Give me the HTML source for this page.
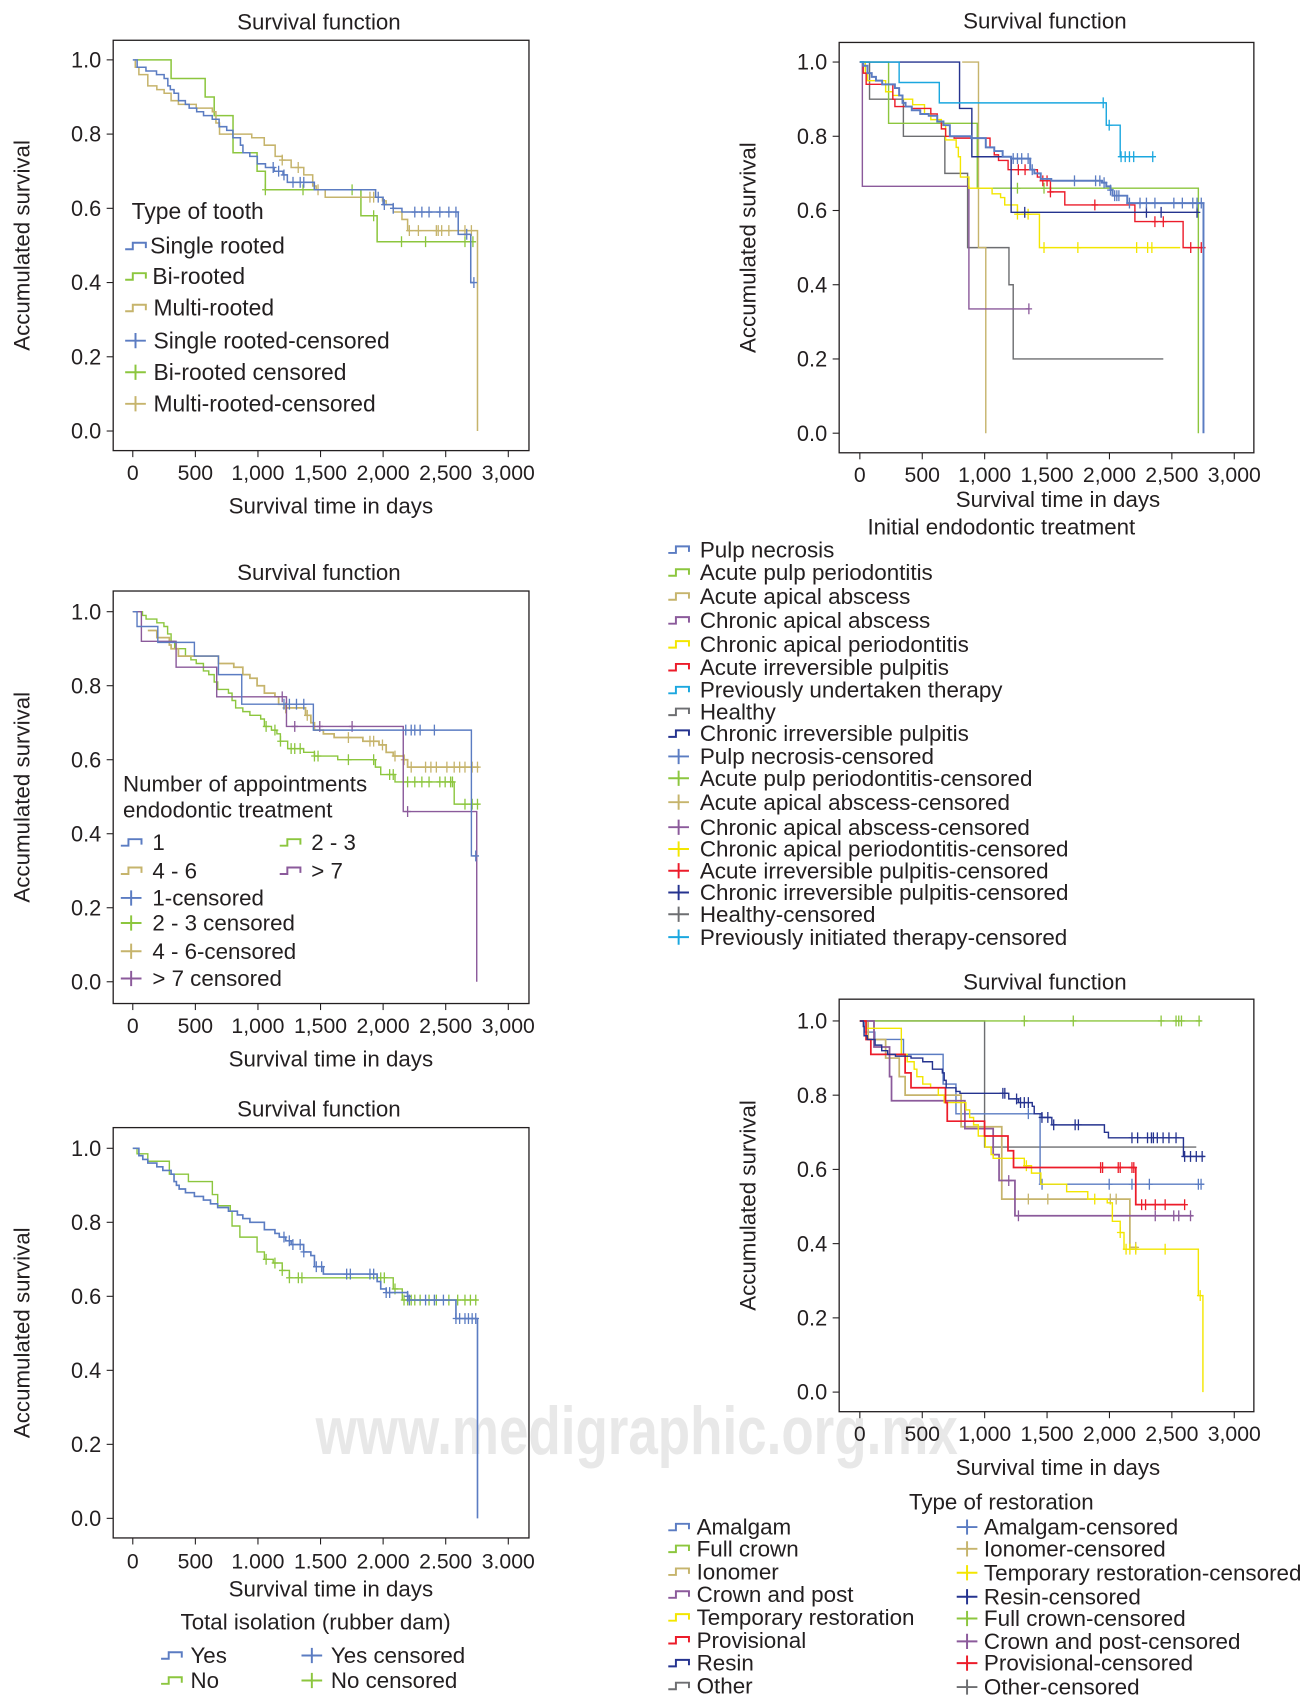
<!DOCTYPE html>
<html><head><meta charset="utf-8"><style>
html,body{margin:0;padding:0;background:#fff;}
svg{display:block;}
text{font-family:"Liberation Sans",Arial,sans-serif;fill:#231f20;}
</style></head><body>
<svg id="fig" width="1311" height="1706" viewBox="0 0 1204.5 1567.4" preserveAspectRatio="none" xmlns="http://www.w3.org/2000/svg">
<text x="290" y="1336" font-size="62" font-weight="bold" style="fill:#e8e8e8" textLength="590" lengthAdjust="spacingAndGlyphs">www.medigraphic.org.mx</text>
</svg>
<script>
// ---------- shared tick data ----------
const xTicks=[0,500,1000,1500,2000,2500,3000];
const xTickLabels=['0','500','1,000','1,500','2,000','2,500','3,000'];
const xTickLabelsDot=['0','500','1.000','1.500','2.000','2.500','3.000'];
const yTicks=[0,0.2,0.4,0.6,0.8,1.0];
const yTickLabels=['0.0','0.2','0.4','0.6','0.8','1.0'];

// ---------- Panel 1: type of tooth ----------
const p1SingleT=[0,35,105,190,250,280,300,330,365,420,450,510,565,635,690,750,800,860,880,935,995,1060,1130,1200,1235,1450,1940,2000,2080,2150,2600,2700];
const p1SingleS=[1,0.98,0.97,0.96,0.95,0.93,0.92,0.91,0.89,0.88,0.87,0.86,0.85,0.84,0.82,0.81,0.79,0.77,0.75,0.74,0.72,0.71,0.70,0.69,0.67,0.65,0.63,0.61,0.60,0.59,0.53,0.40];
const p1SingleEnd=[2725];
const p1SingleC=[1122,1165,1208,1280,1337,1366,1961,2010,2081,2253,2310,2367,2453,2525,2582,2668,2725];
const p1BiT=[30,306,578,650,801,993,1059,1823,1952];
const p1BiS=[1,0.95,0.90,0.85,0.75,0.70,0.65,0.58,0.51];
const p1BiEnd=[2740];
const p1BiC=[1059,1360,1752,1924,2147,2339,2654,2717];
const p1MultiT=[15,20,49,120,192,250,306,364,507,636,664,693,950,1050,1137,1194,1265,1366,1437,1465,1537,1995,2024,2081,2150,2196,2754];
const p1MultiS=[1,0.98,0.96,0.93,0.92,0.91,0.89,0.88,0.87,0.86,0.83,0.80,0.79,0.77,0.74,0.73,0.71,0.69,0.66,0.65,0.63,0.62,0.61,0.59,0.57,0.54,0];
const p1MultiEnd=[2754];
const p1MultiC=[1194,1322,1480,1895,1924,2210,2282,2425,2440,2468,2525,2654,2705];

// ---------- Panel 2: initial endodontic treatment ----------
const p2PulpT=[0,27,61,95,129,179,281,315,342,366,416,484,552,620,670,721,891,1009,1077,1144,1212,1365,1398,1449,1534,1940,1974,2008,2025,2143,2753];
const p2PulpS=[1,0.99,0.97,0.96,0.95,0.94,0.93,0.91,0.89,0.88,0.87,0.86,0.855,0.84,0.83,0.80,0.795,0.77,0.76,0.745,0.74,0.71,0.70,0.685,0.68,0.675,0.665,0.655,0.64,0.62,0];
const p2PulpEnd=[2753];
const p2PulpC=[1229,1263,1297,1348,1381,1720,1889,1923,1957,2008,2042,2059,2076,2160,2245,2296,2364,2516,2584,2668,2702,2736];
const p2AcuteT=[0,230,941,2712];
const p2AcuteS=[1,0.835,0.66,0];
const p2AcuteEnd=[2712];
const p2AcuteC=[1263,1476];
const p2AbscT=[820,951,1009];
const p2AbscS=[1,0.5,0];
const p2AbscEnd=[1009];
const p2AbscC=[];
const p2ChronAbscT=[0,20,874];
const p2ChronAbscS=[1,0.665,0.335];
const p2ChronAbscEnd=[1354];
const p2ChronAbscC=[1354];
const p2ChronPerT=[0,44,61,207,264,342,423,518,569,653,687,772,789,806,874,1060,1128,1161,1263,1439];
const p2ChronPerS=[1,0.97,0.95,0.92,0.91,0.90,0.885,0.86,0.845,0.83,0.79,0.77,0.745,0.69,0.66,0.645,0.635,0.615,0.59,0.50];
const p2ChronPerEnd=[2567];
const p2ChronPerC=[1263,1348,1476,1747,2218,2306,2340];
const p2IrrT=[0,27,51,264,281,416,569,620,653,687,755,1043,1077,1111,1188,1422,1449,1527,1642,2204,2590];
const p2IrrS=[1,0.97,0.94,0.90,0.88,0.875,0.86,0.84,0.82,0.80,0.795,0.77,0.75,0.735,0.71,0.69,0.68,0.65,0.615,0.57,0.50];
const p2IrrEnd=[2770];
const p2IrrC=[1270,1324,1466,1500,1527,1883,2364,2431,2651,2736];
const p2PrevT=[0,315,637,1974,2086];
const p2PrevS=[1,0.945,0.89,0.83,0.745];
const p2PrevEnd=[2353];
const p2PrevC=[1950,1998,2093,2126,2160,2194,2347];
const p2HealthyT=[0,78,349,681,863,1195,1229];
const p2HealthyS=[1,0.90,0.80,0.70,0.50,0.40,0.20];
const p2HealthyEnd=[2431];
const p2HealthyC=[];
const p2ChronIrrT=[0,799,897,1212];
const p2ChronIrrS=[1,0.875,0.745,0.595];
const p2ChronIrrEnd=[2712];
const p2ChronIrrC=[1321,2296,2414,2702];

// ---------- Panel 3: number of appointments ----------
const p3OneT=[0,34,200,492,684,870,1443,2705];
const p3OneS=[1,0.96,0.917,0.88,0.83,0.75,0.68,0.34];
const p3OneEnd=[2740];
const p3OneC=[1208,1251,1308,1366,2181,2224,2253,2296,2410,2740];
const p3TwoT=[0,34,77,106,192,249,278,306,335,421,464,507,564,607,650,678,764,793,822,879,936,1022,1051,1108,1151,1179,1237,1365,1451,1637,1938,1981,2095,2568];
const p3TwoS=[1,1,0.99,0.98,0.97,0.96,0.94,0.92,0.90,0.88,0.87,0.86,0.84,0.83,0.81,0.79,0.78,0.76,0.74,0.73,0.72,0.71,0.69,0.68,0.67,0.65,0.63,0.62,0.61,0.60,0.58,0.56,0.54,0.48];
const p3TwoEnd=[2768];
const p3TwoC=[1065,1136,1180,1265,1294,1337,1451,1480,1723,1924,2052,2081,2196,2253,2310,2367,2453,2496,2539,2554,2654,2711,2754];
const p3FourT=[120,192,292,306,364,684,807,879,936,993,1051,1136,1165,1222,1380,1423,1451,1523,1609,1838,1967,2024,2081,2167,2196];
const p3FourS=[0.949,0.93,0.91,0.90,0.88,0.86,0.85,0.83,0.82,0.80,0.78,0.77,0.75,0.74,0.72,0.70,0.68,0.67,0.66,0.65,0.64,0.62,0.61,0.60,0.58];
const p3FourEnd=[2768];
const p3FourC=[1222,1394,1723,1895,1924,1995,2095,2167,2224,2339,2382,2425,2510,2568,2611,2654,2711,2754];
const p3SevenT=[0,69,346,670,1228,2161,2748];
const p3SevenS=[1,0.92,0.85,0.77,0.69,0.46,0];
const p3SevenEnd=[2748];
const p3SevenC=[1194,1294,1494,1752,2196];

// ---------- Panel 4: rubber dam ----------
const p4YesT=[0,49,80,120,192,240,306,330,349,370,421,492,564,621,678,764,836,879,936,1051,1136,1170,1222,1265,1365,1423,1451,1523,1952,1981,2024,2196,2210,2582,2754];
const p4YesS=[1,0.98,0.97,0.96,0.95,0.94,0.93,0.91,0.90,0.89,0.88,0.87,0.86,0.85,0.84,0.83,0.82,0.81,0.80,0.78,0.77,0.76,0.75,0.74,0.72,0.71,0.68,0.66,0.64,0.62,0.61,0.60,0.59,0.54,0];
const p4YesEnd=[2754];
const p4YesC=[1208,1250,1279,1337,1366,1466,1509,1709,1738,1895,1924,2024,2052,2196,2210,2339,2410,2482,2582,2611,2654,2682,2711,2740];
const p4NoT=[0,34,120,292,444,636,678,779,793,856,993,1051,1122,1194,1251,2081,2153];
const p4NoS=[1,0.985,0.965,0.93,0.91,0.875,0.845,0.83,0.79,0.76,0.72,0.70,0.69,0.67,0.65,0.62,0.59];
const p4NoEnd=[2754];
const p4NoC=[1065,1136,1194,1251,1323,1351,1981,2010,2095,2167,2196,2224,2253,2296,2367,2425,2525,2596,2654,2697,2740];

// ---------- Panel 5: type of restoration ----------
const p5AmalT=[0,35,120,350,667,770,1444];
const p5AmalS=[1,0.97,0.95,0.91,0.83,0.75,0.56];
const p5AmalEnd=[2759];
const p5AmalC=[1350,1460,1998,2180,2320,2712,2734];
const p5CrownT=[0];
const p5CrownS=[1];
const p5CrownEnd=[2734];
const p5CrownC=[1318,1710,2414,2533,2555,2577,2718];
const p5IonoT=[0,66,207,316,363,811,1137,2164];
const p5IonoS=[1,0.95,0.90,0.85,0.80,0.715,0.52,0.39];
const p5IonoEnd=[2226];
const p5IonoC=[1350,1506,2007,2054,2211];
const p5PostT=[0,113,238,254,842,1068,1115,1243];
const p5PostS=[1,0.93,0.85,0.785,0.71,0.64,0.57,0.475];
const p5PostEnd=[2665];
const p5PostC=[1193,1271,2367,2515,2555,2649];
const p5TempT=[0,50,332,379,435,457,504,567,629,676,849,880,911,949,1005,1052,1068,1318,1375,1450,1657,1826,1982,2023,2086,2117,2712,2749];
const p5TempS=[1,0.98,0.91,0.89,0.87,0.85,0.83,0.82,0.80,0.78,0.76,0.74,0.72,0.69,0.66,0.64,0.63,0.61,0.59,0.56,0.54,0.52,0.51,0.46,0.43,0.385,0.26,0];
const p5TempEnd=[2749];
const p5TempC=[1334,1882,2086,2133,2164,2211,2446,2727];
const p5ProvT=[0,50,88,363,410,686,700,999,1187,1231,2211];
const p5ProvS=[1,0.95,0.91,0.86,0.82,0.78,0.73,0.69,0.65,0.605,0.505];
const p5ProvEnd=[2602];
const p5ProvC=[1929,1945,2070,2086,2180,2195,2258,2289,2367,2446,2602];
const p5ResinT=[0,28,34,59,122,175,222,285,410,504,582,661,676,692,770,802,1193,1271,1381,1397,1459,1538,1960,1992,2593];
const p5ResinS=[1,0.985,0.96,0.95,0.935,0.92,0.91,0.905,0.90,0.89,0.87,0.86,0.84,0.82,0.81,0.805,0.79,0.78,0.77,0.75,0.74,0.72,0.70,0.685,0.635];
const p5ResinEnd=[2759];
const p5ResinC=[1146,1162,1256,1287,1318,1350,1459,1506,1553,1725,1751,2180,2226,2305,2336,2352,2383,2430,2477,2533,2602,2649,2696,2743];
const p5OtherT=[12,999];
const p5OtherS=[1,0.66];
const p5OtherEnd=[2696];
const p5OtherC=[];

// ---------- colours ----------
const C={blue:'#5b7cc2',green:'#8cc63e',tan:'#c6b46c',purple:'#8b5a9b',yellow:'#f3e600',red:'#ec1c2a',cyan:'#1ba7df',gray:'#6d6e71',navy:'#25338f'};

const NS='http://www.w3.org/2000/svg';
const svg=document.getElementById('fig');
function mk(tag,attrs,parent){const e=document.createElementNS(NS,tag);for(const k in attrs)e.setAttribute(k,attrs[k]);(parent||svg).appendChild(e);return e;}
function txt(s,attrs,parent){const e=mk('text',attrs,parent);e.textContent=s;return e;}

function makeAxes(name,box,xr,yr,title,titleX,titleY,xlabY,xlabX,ylabX,tickLabY,xLabels){
  const g=mk('g',{});
  
  
  const ax={x:d=>xr[0]+(xr[1]-xr[0])*d/3000,y:s=>yr[1]+(yr[0]-yr[1])*s,g:g};
  const r=mk('rect',{x:box[0],y:box[1],width:box[2]-box[0],height:box[3]-box[1],fill:'none',stroke:'#231f20','stroke-width':1.2},g);
  
  
  const t=txt(title,{x:titleX,y:titleY,'font-size':20.5,'text-anchor':'middle'},g);
  
  
  yTicks.forEach((v,i)=>{
    const yy=ax.y(v);
    mk('line',{x1:box[0]-6,x2:box[0],y1:yy,y2:yy,stroke:'#231f20','stroke-width':1},g);
    const l=txt(yTickLabels[i],{x:box[0]-11,y:yy+7,'font-size':20,'text-anchor':'end'},g);
    
    
  });
  xTicks.forEach((v,i)=>{
    const xx=ax.x(v);
    mk('line',{x1:xx,x2:xx,y1:box[3],y2:box[3]+6,stroke:'#231f20','stroke-width':1},g);
    const l=txt(xLabels[i],{x:xx,y:tickLabY,'font-size':19.5,'text-anchor':'middle'},g);
    
    
  });
  const xl=txt('Survival time in days',{x:xlabX,y:xlabY,'font-size':20.5,'text-anchor':'middle'},g);
  
  
  const cy=(box[1]+box[3])/2;
  const yl=txt('Accumulated survival',{x:ylabX,y:cy,'font-size':20.5,'text-anchor':'middle',transform:'rotate(-90 '+ylabX+' '+cy+')'},g);
  
  
  return ax;
}
function survAt(T,S,d){let s=S[0];for(let i=0;i<T.length;i++){if(T[i]<=d)s=S[i];}return s;}
function series(ax,T,S,End,Cs,color,name,w){
  let d='M'+ax.x(T[0]).toFixed(1)+' '+ax.y(S[0]).toFixed(1);
  for(let i=1;i<T.length;i++){d+=' H'+ax.x(T[i]).toFixed(1)+' V'+ax.y(S[i]).toFixed(1);}
  d+=' H'+ax.x(End[0]).toFixed(1);
  const p=mk('path',{d:d,fill:'none',stroke:color,'stroke-width':w||1.3},ax.g);
  
  
  Cs.forEach(c=>{
    const xx=ax.x(c),yy=ax.y(survAt(T,S,c));
    const m=mk('path',{d:'M'+xx.toFixed(1)+' '+(yy-5)+' V'+(yy+5)+' M'+(xx-3)+' '+yy+' H'+(xx+3),stroke:color,'stroke-width':1.2,fill:'none'},ax.g);
    
    
  });
}
function legStep(x,y,color,label,tx,fs,name){
  const g=mk('g',{});
  
  
  mk('path',{d:'M'+x+' '+(y-4)+' H'+(x+7)+' V'+(y-10)+' H'+(x+19)+' V'+(y-5),fill:'none',stroke:color,'stroke-width':1.8},g);
  txt(label,{x:tx,y:y,'font-size':fs||21},g);
}
function legPlus(x,y,color,label,tx,fs,name){
  const g=mk('g',{});
  
  
  mk('path',{d:'M'+x+' '+(y-7)+' H'+(x+19)+' M'+(x+9.5)+' '+(y-14)+' V'+y,fill:'none',stroke:color,'stroke-width':1.8},g);
  txt(label,{x:tx,y:y,'font-size':fs||21},g);
}

// ---------- Panel 1 ----------
const a1=makeAxes('chart-type-of-tooth',[104,37,486,414],[122,467],[55,396],'Survival function',293,27,472,304,27,441,xTickLabels);
series(a1,p1BiT,p1BiS,p1BiEnd,p1BiC,C.green,'bi-rooted',1.4);
series(a1,p1MultiT,p1MultiS,p1MultiEnd,p1MultiC,C.tan,'multi-rooted',1.4);
series(a1,p1SingleT,p1SingleS,p1SingleEnd,p1SingleC,C.blue,'single-rooted',1.4);
txt('Type of tooth',{x:121,y:201,'font-size':21});
legStep(115,233,C.blue,'Single rooted',138,21,'legend-single-rooted');
legStep(115,261,C.green,'Bi-rooted',140,21,'legend-bi-rooted');
legStep(115,290,C.tan,'Multi-rooted',141,21,'legend-multi-rooted');
legPlus(115,320,C.blue,'Single rooted-censored',141,21,'legend-single-rooted-censored');
legPlus(115,349,C.green,'Bi-rooted censored',141,21,'legend-bi-rooted-censored');
legPlus(115,378,C.tan,'Multi-rooted-censored',141,21,'legend-multi-rooted-censored');

// ---------- Panel 2 ----------
const a2=makeAxes('chart-initial-endodontic-treatment',[771,39,1152,416],[790,1134],[57,398],'Survival function',960,26,466,972,694,443,xTickLabels);
series(a2,p2HealthyT,p2HealthyS,p2HealthyEnd,p2HealthyC,C.gray,'healthy');
series(a2,p2AbscT,p2AbscS,p2AbscEnd,p2AbscC,C.tan,'acute-apical-abscess');
series(a2,p2AcuteT,p2AcuteS,p2AcuteEnd,p2AcuteC,C.green,'acute-pulp-periodontitis');
series(a2,p2ChronAbscT,p2ChronAbscS,p2ChronAbscEnd,p2ChronAbscC,C.purple,'chronic-apical-abscess');
series(a2,p2ChronPerT,p2ChronPerS,p2ChronPerEnd,p2ChronPerC,C.yellow,'chronic-apical-periodontitis');
series(a2,p2IrrT,p2IrrS,p2IrrEnd,p2IrrC,C.red,'acute-irreversible-pulpitis');
series(a2,p2ChronIrrT,p2ChronIrrS,p2ChronIrrEnd,p2ChronIrrC,C.navy,'chronic-irreversible-pulpitis');
series(a2,p2PulpT,p2PulpS,p2PulpEnd,p2PulpC,C.blue,'pulp-necrosis',1.8);
series(a2,p2PrevT,p2PrevS,p2PrevEnd,p2PrevC,C.cyan,'previously-undertaken-therapy');
txt('Initial endodontic treatment',{x:920,y:491,'font-size':20.5,'text-anchor':'middle'});
const L2=[['Pulp necrosis',C.blue,512,0],['Acute pulp periodontitis',C.green,533,0],['Acute apical abscess',C.tan,555,0],['Chronic apical abscess',C.purple,577,0],['Chronic apical periodontitis',C.yellow,599,0],['Acute irreversible pulpitis',C.red,620,0],['Previously undertaken therapy',C.cyan,641,0],['Healthy',C.gray,661,0],['Chronic irreversible pulpitis',C.navy,681,0],['Pulp necrosis-censored',C.blue,702,1],['Acute pulp periodontitis-censored',C.green,722,1],['Acute apical abscess-censored',C.tan,744,1],['Chronic apical abscess-censored',C.purple,767,1],['Chronic apical periodontitis-censored',C.yellow,787,1],['Acute irreversible pulpitis-censored',C.red,807,1],['Chronic irreversible pulpitis-censored',C.navy,827,1],['Healthy-censored',C.gray,847,1],['Previously initiated therapy-censored',C.cyan,868,1]];
L2.forEach(r=>{(r[3]?legPlus:legStep)(614,r[2],r[1],r[0],643,20.6,'legend-'+r[0].toLowerCase().replace(/[^a-z]+/g,'-'));});

// ---------- Panel 3 ----------
const a3=makeAxes('chart-number-of-appointments',[104,543,486,922],[122,467],[562,902],'Survival function',293,533,980,304,27,949,xTickLabels);
series(a3,p3TwoT,p3TwoS,p3TwoEnd,p3TwoC,C.green,'appointments-2-3');
series(a3,p3FourT,p3FourS,p3FourEnd,p3FourC,C.tan,'appointments-4-6',1.6);
series(a3,p3SevenT,p3SevenS,p3SevenEnd,p3SevenC,C.purple,'appointments-over-7');
series(a3,p3OneT,p3OneS,p3OneEnd,p3OneC,C.blue,'appointments-1');
txt('Number of appointments',{x:113,y:727,'font-size':20.5});
txt('endodontic treatment',{x:113,y:751,'font-size':20.5});
legStep(111,781,C.blue,'1',140,20.5,'legend-1');
legStep(257,781,C.green,'2 - 3',286,20.5,'legend-2-3');
legStep(111,807,C.tan,'4 - 6',140,20.5,'legend-4-6');
legStep(257,807,C.purple,'> 7',286,20.5,'legend-over-7');
legPlus(111,832,C.blue,'1-censored',140,20.5,'legend-1-censored');
legPlus(111,855,C.green,'2 - 3 censored',140,20.5,'legend-2-3-censored');
legPlus(111,881,C.tan,'4 - 6-censored',140,20.5,'legend-4-6-censored');
legPlus(111,906,C.purple,'> 7 censored',140,20.5,'legend-over-7-censored');

// ---------- Panel 4 ----------
const a4=makeAxes('chart-rubber-dam',[104,1036,486,1413],[122,467],[1055,1395],'Survival function',293,1026,1467,304,27,1441,xTickLabelsDot);
series(a4,p4NoT,p4NoS,p4NoEnd,p4NoC,C.green,'rubber-dam-no');
series(a4,p4YesT,p4YesS,p4YesEnd,p4YesC,C.blue,'rubber-dam-yes',1.5);
txt('Total isolation (rubber dam)',{x:290,y:1497,'font-size':20.5,'text-anchor':'middle'});
legStep(148,1528,C.blue,'Yes',175,20.5,'legend-yes');
legPlus(277,1528,C.blue,'Yes censored',304,20.5,'legend-yes-censored');
legStep(148,1551,C.green,'No',175,20.5,'legend-no');
legPlus(277,1551,C.green,'No censored',304,20.5,'legend-no-censored');

// ---------- Panel 5 ----------
const a5=makeAxes('chart-type-of-restoration',[771,918,1152,1297],[790,1134],[938,1279],'Survival function',960,909,1355,972,694,1324,xTickLabels);
series(a5,p5OtherT,p5OtherS,p5OtherEnd,p5OtherC,C.gray,'other');
series(a5,p5CrownT,p5CrownS,p5CrownEnd,p5CrownC,C.green,'full-crown');
series(a5,p5AmalT,p5AmalS,p5AmalEnd,p5AmalC,C.blue,'amalgam');
series(a5,p5IonoT,p5IonoS,p5IonoEnd,p5IonoC,C.tan,'ionomer',1.6);
series(a5,p5PostT,p5PostS,p5PostEnd,p5PostC,C.purple,'crown-and-post',1.6);
series(a5,p5TempT,p5TempS,p5TempEnd,p5TempC,C.yellow,'temporary-restoration');
series(a5,p5ProvT,p5ProvS,p5ProvEnd,p5ProvC,C.red,'provisional',1.6);
series(a5,p5ResinT,p5ResinS,p5ResinEnd,p5ResinC,C.navy,'resin');
txt('Type of restoration',{x:920,y:1387,'font-size':20.5,'text-anchor':'middle'});
const L5a=[['Amalgam',C.blue,1410],['Full crown',C.green,1430],['Ionomer',C.tan,1451],['Crown and post',C.purple,1472],['Temporary restoration',C.yellow,1493],['Provisional',C.red,1514],['Resin',C.navy,1535],['Other',C.gray,1556]];
L5a.forEach(r=>legStep(614,r[2],r[1],r[0],640,20.6,'legend-'+r[0].toLowerCase().replace(/[^a-z]+/g,'-')));
const L5b=[['Amalgam-censored',C.blue,1410],['Ionomer-censored',C.tan,1430],['Temporary restoration-censored',C.yellow,1452],['Resin-censored',C.navy,1474],['Full crown-censored',C.green,1494],['Crown and post-censored',C.purple,1515],['Provisional-censored',C.red,1535],['Other-censored',C.gray,1557]];
L5b.forEach(r=>legPlus(879,r[2],r[1],r[0],904,20.6,'legend-'+r[0].toLowerCase().replace(/[^a-z]+/g,'-')));
</script>
</body></html>
